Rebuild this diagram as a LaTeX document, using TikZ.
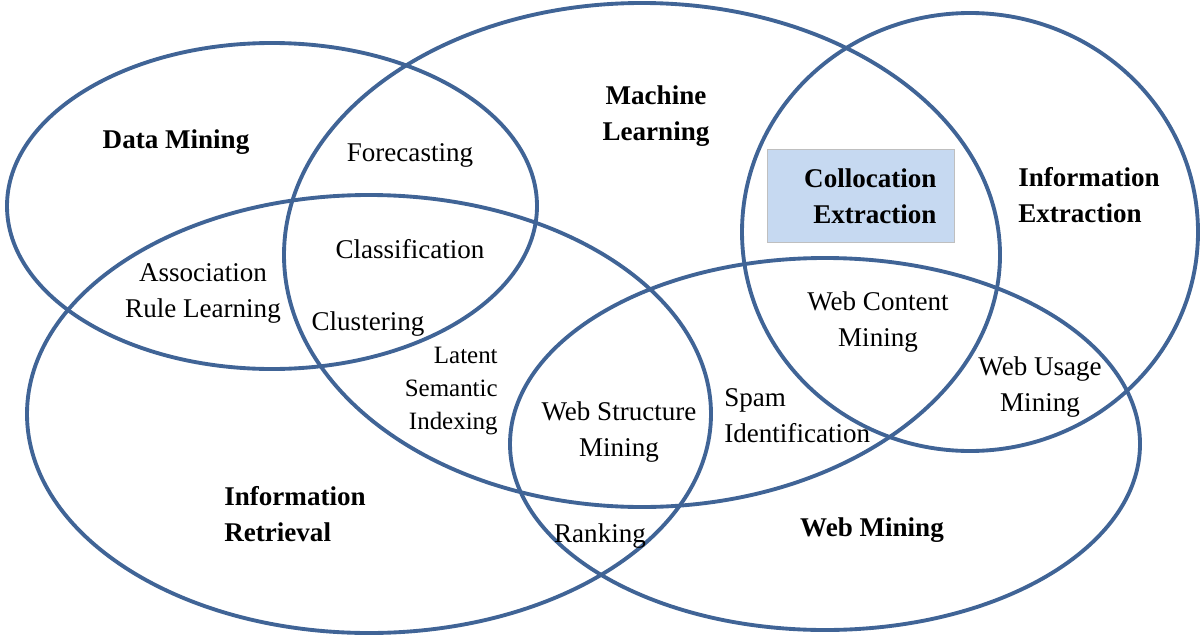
\documentclass[tikz,border=0pt]{standalone}
\usepackage{fontspec}
\setmainfont{Liberation Serif}

\definecolor{vennblue}{RGB}{64,100,150}
\definecolor{boxblue}{RGB}{198,217,241}

\begin{document}
\begin{tikzpicture}[x=0.02cm, y=-0.02cm,
		venn/.style={draw=vennblue, line width=2.2pt},
		term/.style={font=\fontsize{15.4}{20.5}\selectfont, align=center, inner sep=0pt},
		area/.style={term, font=\fontsize{15.4}{20.5}\selectfont\bfseries}]
	\useasboundingbox (0,0) rectangle (1202,635);

	% Fields
	\draw[venn] (272,206) ellipse [x radius=265, y radius=163];
	\draw[venn] (642,255) ellipse [x radius=358, y radius=252];
	\draw[venn] (970,232) ellipse [x radius=228, y radius=219];
	\draw[venn] (369,414) ellipse [x radius=342, y radius=219];
	\draw[venn] (825,444) ellipse [x radius=315, y radius=186];

	% Field names
	\node[area] (datamining) at (176,142) {Data Mining};
	\node[area] (machlearn) at (656,116) {Machine\\Learning};
	\node[area, anchor=west, align=left] (infoext) at (1018,195) {Information\\Extraction};
	\node[area, anchor=west, align=left] (inforet) at (224,514) {Information\\Retrieval};
	\node[area] (webmining) at (872,530) {Web Mining};

	% Overlaps
	\node[area, fill=boxblue, draw=black!25, line width=0.4pt, inner xsep=0.36cm,
		text width=3.02cm, align=right, minimum height=1.86cm] (colloc) at (861,196) {Collocation\\Extraction};
	\node[term] (forecast) at (410,155) {Forecasting};
	\node[term] (classif) at (410,249) {Classification};
	\node[term] (assoc) at (203,293) {Association\\Rule Learning};
	\node[term] (cluster) at (368,324) {Clustering};
	\node[term, anchor=east, align=right, font=\fontsize{14.2}{19}\selectfont] (lsi) at (498,391) {Latent\\Semantic\\Indexing};
	\node[term] (webcontent) at (878,322) {Web Content\\Mining};
	\node[term] (webusage) at (1040,387) {Web Usage\\Mining};
	\node[term] (webstruct) at (619,432) {Web Structure\\Mining};
	\node[term, anchor=west, align=left] (spam) at (724,416) {Spam\\Identification};
	\node[term] (ranking) at (600,536) {Ranking};
\end{tikzpicture}
\end{document}
